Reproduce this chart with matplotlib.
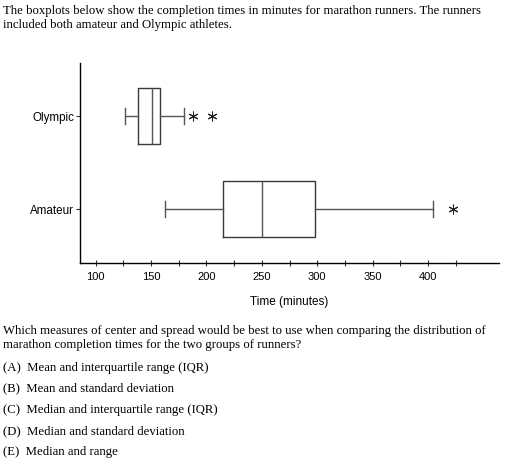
import matplotlib
matplotlib.use("Agg")
import matplotlib.pyplot as plt

# ---- data ----
groups = ["Amateur", "Olympic"]
whisker_low = [162.5, 126.0]
q1 = [215.0, 138.5]
median = [250.0, 150.5]
q3 = [298.0, 158.0]
whisker_high = [404.5, 180.0]
outliers = [[422.5], [188.0, 205.0]]
major_ticks = [100, 150, 200, 250, 300, 350, 400]
minor_ticks = [125, 175, 225, 275, 325, 375, 425]

title_lines = [
    "The boxplots below show the completion times in minutes for marathon runners. The runners",
    "included both amateur and Olympic athletes.",
]
question_lines = [
    "Which measures of center and spread would be best to use when comparing the distribution of",
    "marathon completion times for the two groups of runners?",
]
options = [
    "(A)  Mean and interquartile range (IQR)",
    "(B)  Mean and standard deviation",
    "(C)  Median and interquartile range (IQR)",
    "(D)  Median and standard deviation",
    "(E)  Median and range",
]

W, H = 522, 467
fig = plt.figure(figsize=(W / 100, H / 100), dpi=100)
ax = fig.add_axes([80 / W, 1 - 263.3 / H, (499 - 80) / W, (263.3 - 63.3) / H])

stats = []
for i, g in enumerate(groups):
    stats.append(dict(label=g, whislo=whisker_low[i], q1=q1[i], med=median[i],
                      q3=q3[i], whishi=whisker_high[i], fliers=outliers[i]))

lc = "#3a3a3a"
ax.bxp(stats, positions=[1, 2], vert=False, widths=0.6, capwidths=0.17,
       showfliers=True,
       boxprops=dict(color=lc, linewidth=1.0),
       whiskerprops=dict(color="#555555", linewidth=1.0),
       capprops=dict(color="#555555", linewidth=1.0),
       medianprops=dict(color="#555555", linewidth=1.0),
       flierprops=dict(marker=(6, 2, 0), markersize=7, markeredgecolor="#222222",
                       markerfacecolor="none", markeredgewidth=0.75, linestyle="none"))

ax.set_xlim(85.8, 464.1)
ax.set_ylim(0.421, 2.565)
ax.set_yticks([1, 2])
ax.set_yticklabels(groups, family="Liberation Sans", fontsize=8.4)
ax.set_xticks(major_ticks)
ax.set_xticklabels([str(t) for t in major_ticks], family="Liberation Sans", fontsize=8.0)
ax.set_xticks(minor_ticks, minor=True)
ax.tick_params(axis="x", which="both", direction="inout", length=4, width=0.8,
               color="#333333", pad=4)
ax.tick_params(axis="y", direction="out", length=3, width=0.8, color="#333333", pad=1)
for s in ["top", "right"]:
    ax.spines[s].set_visible(False)
for s in ["left", "bottom"]:
    ax.spines[s].set_linewidth(1.0)
    ax.spines[s].set_color("black")
ax.set_xlabel("Time (minutes)", family="Liberation Sans", fontsize=8.5, labelpad=10)

serif = "Liberation Serif"
fs = 9.15
for y, t in zip([10.7, 25.0], title_lines):
    fig.text(3 / W, 1 - y / H, t, family=serif, fontsize=fs, va="center", ha="left")
for y, t in zip([331.0, 345.0], question_lines):
    fig.text(3 / W, 1 - y / H, t, family=serif, fontsize=fs, va="center", ha="left")
for y, t in zip([368.3, 388.0, 410.5, 431.0, 451.7], options):
    fig.text(3 / W, 1 - y / H, t, family=serif, fontsize=fs, va="center", ha="left")

fig.savefig("out.png", dpi=100, facecolor="white")
